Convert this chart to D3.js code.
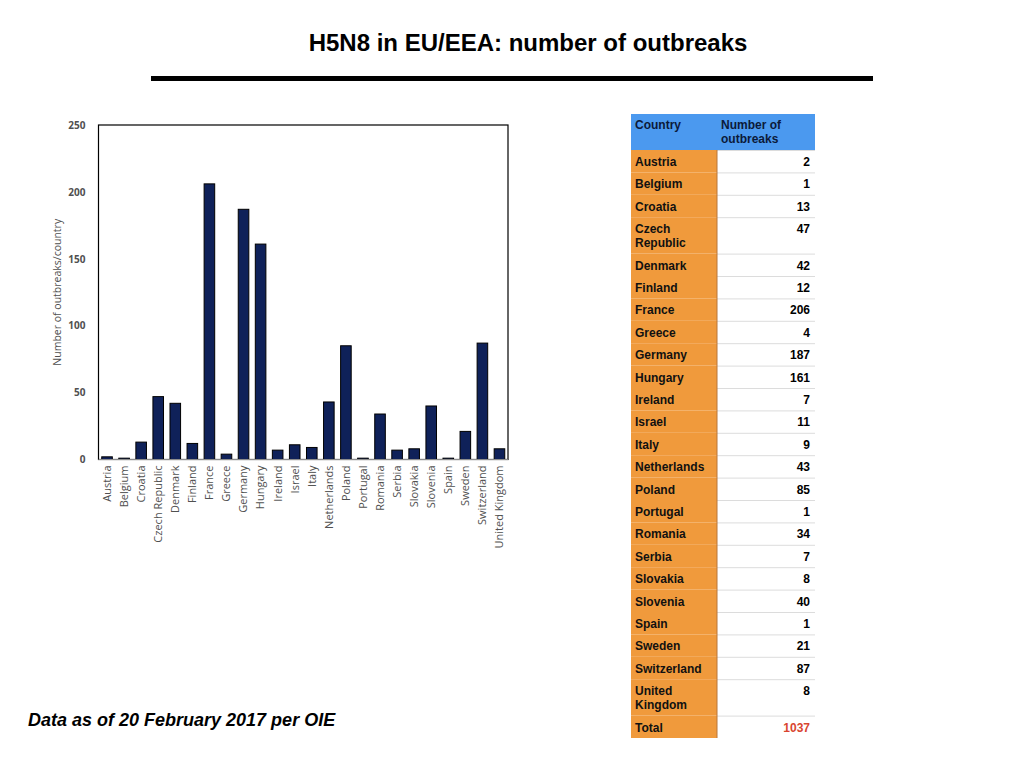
<!DOCTYPE html>
<html>
<head>
<meta charset="utf-8">
<script src="https://cdn.jsdelivr.net/npm/d3@7"></script>
<style>
  body { margin: 0; background: #fff; }
  svg { display: block; }
</style>
</head>
<body>
<div id="chart"></div>
<script>
// values
const countries = ['Austria', 'Belgium', 'Croatia', 'Czech Republic', 'Denmark', 'Finland', 'France', 'Greece',
	'Germany', 'Hungary', 'Ireland', 'Israel', 'Italy', 'Netherlands', 'Poland', 'Portugal', 'Romania', 'Serbia',
	'Slovakia', 'Slovenia', 'Spain', 'Sweden', 'Switzerland', 'United Kingdom'];
const outbreaks = [2, 1, 13, 47, 42, 12, 206, 4, 187, 161, 7, 11, 9, 43, 85, 1, 34, 7, 8, 40, 1, 21, 87, 8];
const yTicks = [0, 50, 100, 150, 200, 250];
const tableHeader = ['Country', 'Number of\noutbreaks'];
// names that wrap onto two lines in the table
const tableLabels = countries.map(c => c === 'Czech Republic' ? 'Czech\nRepublic' : c === 'United Kingdom' ? 'United\nKingdom' : c);

const W = 1024, H = 768;
const svg = d3.select('#chart').append('svg').attr('width', W).attr('height', H);

// title + rule
svg.append('text')
	.attr('x', 528).attr('y', 51)
	.attr('text-anchor', 'middle')
	.style('font', 'bold 24px "Liberation Sans", Arial, sans-serif')
	.text('H5N8 in EU/EEA: number of outbreaks');
svg.append('line')
	.attr('x1', 151).attr('x2', 873).attr('y1', 78.5).attr('y2', 78.5)
	.attr('stroke', '#000').attr('stroke-width', 5);

// footer
svg.append('text')
	.attr('x', 28).attr('y', 726)
	.style('font', 'italic bold 18px "Liberation Sans", Arial, sans-serif')
	.text('Data as of 20 February 2017 per OIE');

// ---------- bar chart ----------
const plot = { left: 98.5, right: 508, top: 125, bottom: 459.5 };
const grey = '#505050';

const x = d3.scaleBand()
	.domain(countries)
	.range([plot.left, plot.right])
	.paddingInner(0.38)
	.paddingOuter(0.19);

const y = d3.scaleLinear()
	.domain([0, 250])
	.range([plot.bottom, plot.top]);

const chart = svg.append('g');

chart.append('rect')
	.attr('x', plot.left).attr('y', plot.top)
	.attr('width', plot.right - plot.left).attr('height', plot.bottom - plot.top)
	.attr('fill', 'none').attr('stroke', '#000').attr('stroke-width', 1.2);

chart.selectAll('.bar')
	.data(countries)
	.join('rect')
	.attr('class', 'bar')
	.attr('x', d => x(d))
	.attr('width', x.bandwidth())
	.attr('y', (d, i) => y(outbreaks[i]))
	.attr('height', (d, i) => plot.bottom - y(outbreaks[i]))
	.attr('fill', '#0f2159')
	.attr('stroke', '#000')
	.attr('stroke-width', 1);

chart.append('line')
	.attr('x1', plot.left).attr('x2', plot.right)
	.attr('y1', plot.bottom).attr('y2', plot.bottom)
	.attr('stroke', '#8c8c8c').attr('stroke-width', 1);

const yAxis = chart.append('g')
	.attr('transform', `translate(${plot.left},0)`)
	.call(d3.axisLeft(y).tickValues(yTicks).tickSize(0).tickPadding(13));
yAxis.select('.domain').remove();
yAxis.selectAll('text')
	.attr('fill', grey)
	.style('font', 'bold 10px "Open Sans", sans-serif');

const xAxis = chart.append('g')
	.attr('transform', `translate(0,${plot.bottom})`)
	.call(d3.axisBottom(x).tickSize(0).tickPadding(0));
xAxis.select('.domain').remove();
xAxis.selectAll('text')
	.attr('fill', grey)
	.attr('transform', 'rotate(-90)')
	.attr('text-anchor', 'end')
	.attr('x', -6)
	.attr('y', 0)
	.attr('dy', '0.35em')
	.style('font', '11px "Open Sans", sans-serif');

svg.append('text')
	.attr('transform', `translate(61,${(plot.top + plot.bottom) / 2}) rotate(-90)`)
	.attr('text-anchor', 'middle')
	.attr('fill', grey)
	.style('font', '10.5px "Open Sans", sans-serif')
	.text('Number of outbreaks/country');

// ---------- table ----------
const tbl = { left: 631, mid: 717, right: 815, top: 114, headH: 36, rowH: 22.4, lineH: 14 };
const rows = tableLabels.map((label, i) => ({ label, value: outbreaks[i], color: '#000' }));
rows.push({ label: 'Total', value: d3.sum(outbreaks), color: '#d9452f' });

let yPos = tbl.top + tbl.headH;
rows.forEach(r => {
	const lines = r.label.split('\n').length;
	r.y = yPos;
	r.h = tbl.rowH + (lines - 1) * tbl.lineH;
	yPos += r.h;
});

const table = svg.append('g').style('font', 'bold 12px "Liberation Sans", Arial, sans-serif');

table.append('rect')
	.attr('x', tbl.left).attr('y', tbl.top)
	.attr('width', tbl.right - tbl.left).attr('height', tbl.headH)
	.attr('fill', '#4b99ef');

const rowG = table.selectAll('.row')
	.data(rows)
	.join('g')
	.attr('class', 'row')
	.attr('transform', d => `translate(0,${d.y})`);

rowG.append('rect')
	.attr('x', tbl.left).attr('width', tbl.mid - tbl.left)
	.attr('height', d => d.h)
	.attr('fill', '#f09a3c');
rowG.append('rect')
	.attr('x', tbl.mid).attr('width', tbl.right - tbl.mid)
	.attr('height', d => d.h)
	.attr('fill', '#fff');
rowG.append('line')
	.attr('x1', tbl.mid).attr('x2', tbl.right)
	.attr('y1', 0.5).attr('y2', 0.5)
	.attr('stroke', '#dcdcdc');

rowG.append('text')
	.attr('x', tbl.left + 4)
	.attr('y', 16)
	.attr('fill', '#111')
	.selectAll('tspan')
	.data(d => d.label.split('\n'))
	.join('tspan')
	.attr('x', tbl.left + 4)
	.attr('dy', (d, i) => i === 0 ? 0 : tbl.lineH)
	.text(d => d);

rowG.append('text')
	.attr('x', tbl.right - 5)
	.attr('y', 16)
	.attr('text-anchor', 'end')
	.attr('fill', d => d.color)
	.text(d => d.value);

// divider between the two columns
table.append('line')
	.attr('x1', tbl.mid).attr('x2', tbl.mid)
	.attr('y1', tbl.top + tbl.headH).attr('y2', yPos)
	.attr('stroke', '#b8763a').attr('stroke-width', 1);

// header text
table.selectAll('.head')
	.data(tableHeader)
	.join('text')
	.attr('class', 'head')
	.attr('fill', '#0b1a3a')
	.attr('y', tbl.top + 15)
	.each(function (d, i) {
		const xx = i === 0 ? tbl.left + 4 : tbl.mid + 4;
		d3.select(this).selectAll('tspan')
			.data(d.split('\n'))
			.join('tspan')
			.attr('x', xx)
			.attr('dy', (t, j) => j === 0 ? 0 : tbl.lineH)
			.text(t => t);
	});
</script>
</body>
</html>
